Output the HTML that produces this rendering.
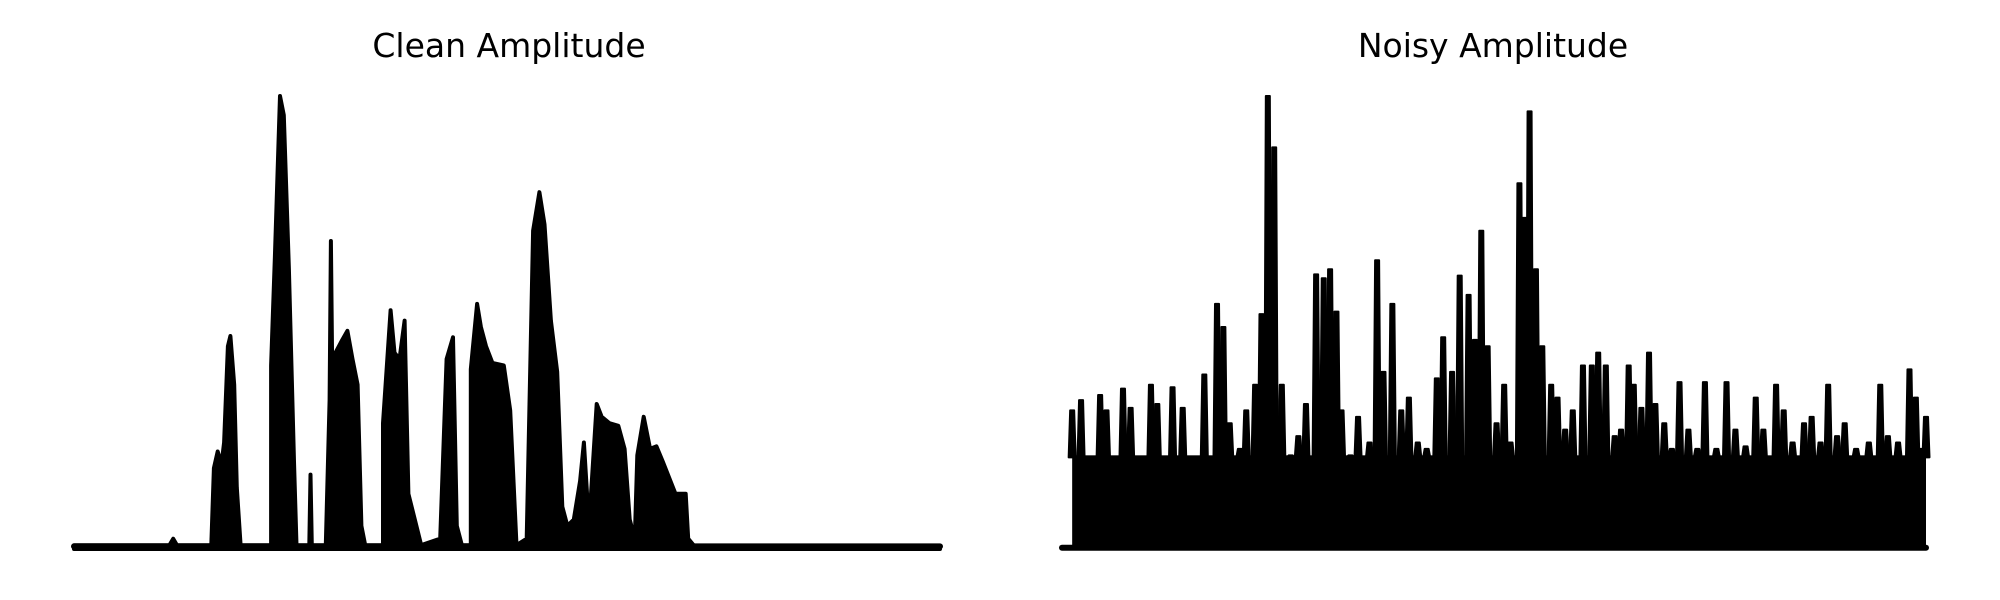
<!DOCTYPE html>
<html><head><meta charset="utf-8"><style>
html,body{margin:0;padding:0;background:#fff;}
svg{display:block;}
</style></head><body>
<svg id="chart" width="2000" height="600" viewBox="0 0 2000 600" xmlns="http://www.w3.org/2000/svg">
<text x="509" y="57" text-anchor="middle" font-family="DejaVu Sans, Liberation Sans, sans-serif" font-size="33">Clean Amplitude</text>
<text x="1493" y="57" text-anchor="middle" font-family="DejaVu Sans, Liberation Sans, sans-serif" font-size="33">Noisy Amplitude</text>
<g id="clean"></g>
<g id="noisy"></g>
</svg>
<script>
// Clean amplitude envelope: sample index, amplitude (arbitrary units)
const cleanT = [0,75,78,81,108,110,113,116,118,121,123,126,128,131,155,155,158,162,165,169,173,175,185,186,187,198,201,202,203,211,215,219,223,226,229,243,243,249,252,256,260,263,268,273,288,293,298,301,305,312,312,317,320,324,329,338,343,348,356,361,366,370,375,380,384,388,393,398,401,405,411,415,421,428,433,437,441,443,448,453,458,463,473,480,481,483,488,681];
const cleanA = [3,3,8,3,3,63,76,66,83,158,166,128,48,3,3,143,228,353,338,218,68,3,3,58,3,3,116,240,148,163,170,148,128,18,3,3,98,186,153,148,178,43,23,3,8,148,165,18,3,3,140,191,173,158,145,143,108,3,8,248,278,253,178,138,33,18,23,53,83,18,113,103,98,96,78,23,8,73,103,78,80,68,43,43,43,8,2,2];
// Noisy amplitude: noise floor level and peak positions/heights
const noisyFloor = 73;
const noisyStart = 8;
const noisyEnd = 680;
const noisyT = [8,15,30,35,48,54,70,75,87,95,112,122,127,132,140,145,152,157,162,167,173,180,186,192,200,206,211,216,220,227,233,242,248,253,260,267,273,280,287,295,300,307,313,320,325,330,335,342,348,353,360,364,368,373,378,385,390,396,402,410,417,422,428,435,440,446,450,456,462,467,474,480,486,493,500,506,515,523,530,538,546,552,562,568,575,584,590,597,603,610,616,625,635,644,650,658,667,672,677,680];
const noisyA = [108,116,120,108,125,110,128,113,126,110,136,191,173,98,78,108,128,183,353,313,128,73,88,113,214,211,218,185,108,73,103,83,225,138,191,108,118,83,78,133,165,138,213,198,163,248,158,98,128,83,285,258,341,218,158,128,118,93,108,143,143,153,143,88,93,143,128,110,153,113,98,78,130,93,78,130,78,130,93,80,118,93,128,108,83,98,103,83,128,88,98,78,83,128,88,83,140,118,78,103];

const NS='http://www.w3.org/2000/svg';
const yScale = a => 549 - a/353*453;
const cx = s => 74 + s/681*866;
const nx = s => 1062 + s/680*864;

// clean
(function(){
  const g=document.getElementById('clean');
  let pts=cleanT.map((t,i)=>cx(t).toFixed(1)+','+yScale(cleanA[i]).toFixed(1));
  pts.push(cx(cleanT[cleanT.length-1]).toFixed(1)+','+yScale(0));
  pts.push(cx(cleanT[0]).toFixed(1)+','+yScale(0));
  const p=document.createElementNS(NS,'polygon');
  
  
  p.setAttribute('points',pts.join(' '));
  p.setAttribute('fill','#000');p.setAttribute('stroke','#000');
  p.setAttribute('stroke-width','4');p.setAttribute('stroke-linejoin','round');
  g.appendChild(p);
  const l=document.createElementNS(NS,'line');
  
  
  l.setAttribute('x1',cx(cleanT[0]));l.setAttribute('x2',cx(cleanT[cleanT.length-1]));
  l.setAttribute('y1',yScale(2));l.setAttribute('y2',yScale(2));
  l.setAttribute('stroke','#000');l.setAttribute('stroke-width','6');l.setAttribute('stroke-linecap','round');
  g.appendChild(l);
})();

// noisy
(function(){
  const g=document.getElementById('noisy');
  const l=document.createElementNS(NS,'line');
  
  
  l.setAttribute('x1',nx(0));l.setAttribute('x2',nx(noisyEnd));
  l.setAttribute('y1',yScale(1));l.setAttribute('y2',yScale(1));
  l.setAttribute('stroke','#000');l.setAttribute('stroke-width','6');l.setAttribute('stroke-linecap','round');
  g.appendChild(l);
  const r=document.createElementNS(NS,'rect');
  
  
  r.setAttribute('x',nx(noisyStart));r.setAttribute('width',nx(noisyEnd)-nx(noisyStart));
  r.setAttribute('y',yScale(noisyFloor));r.setAttribute('height',yScale(0)-yScale(noisyFloor));
  r.setAttribute('fill','#000');
  g.appendChild(r);
  noisyT.forEach((t,i)=>{
    const x=nx(t), yt=yScale(noisyA[i]), yf=yScale(noisyFloor)+2;
    const p=document.createElementNS(NS,'polygon');
    
    
    p.setAttribute('points',`${x-3.5},${yf} ${x-2},${yt} ${x+2},${yt} ${x+3.5},${yf}`);
    p.setAttribute('fill','#000');p.setAttribute('stroke','#000');
    p.setAttribute('stroke-width','2');p.setAttribute('stroke-linejoin','round');
    g.appendChild(p);
  });
})();
</script>
</body></html>
